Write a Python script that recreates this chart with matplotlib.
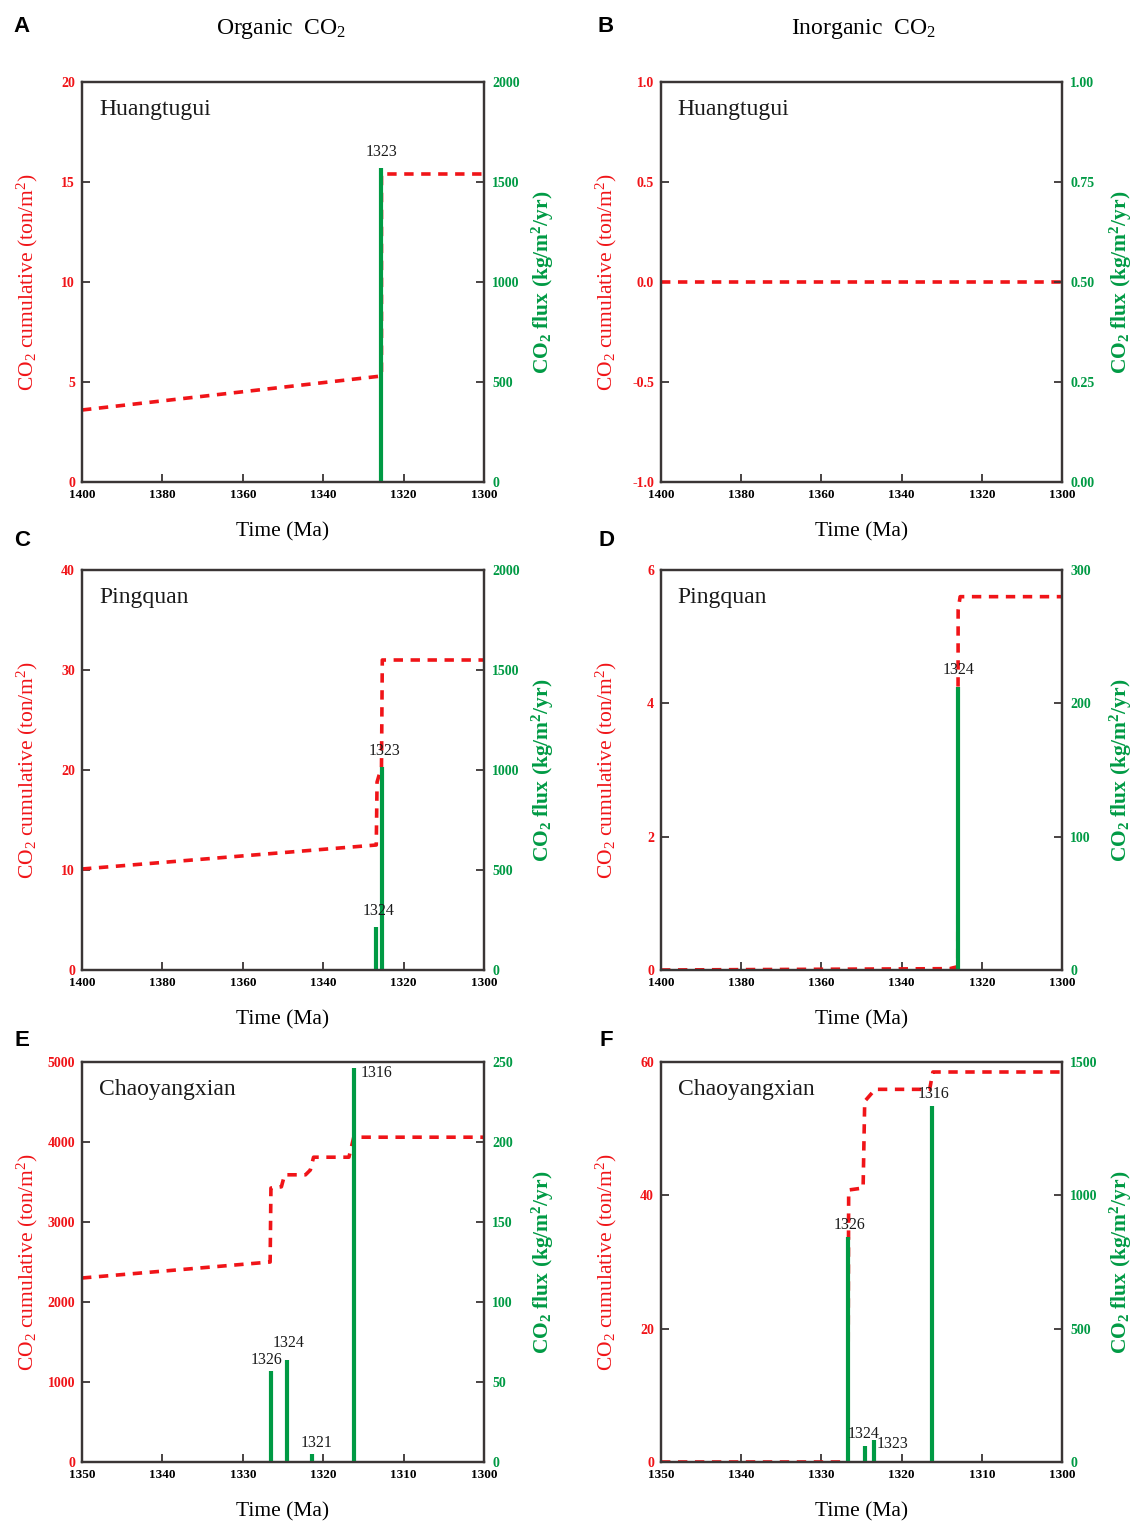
import matplotlib
matplotlib.use('Agg')
import matplotlib.pyplot as plt

plt.rcParams['font.family'] = 'Liberation Serif'
plt.rcParams['mathtext.default'] = 'regular'

RED = '#f01418'
GREEN = '#009a44'
SPINE = '#3a3535'

# panel A - Huangtugui organic
tA = [1400, 1325.5, 1325.5, 1300]
cumA = [3.6, 5.3, 15.4, 15.4]
barA_t = [1325.5]
barA_f = [1570]
barA_lab = ['1323']

# panel B - Huangtugui inorganic
tB = [1400, 1300]
cumB = [0.0, 0.0]
barB_t = []
barB_f = []
barB_lab = []

# panel C - Pingquan organic
tC = [1400, 1326.8, 1326.6, 1325.5, 1325.3, 1300]
cumC = [10.1, 12.5, 18.8, 20.3, 31.0, 31.0]
barC_t = [1326.9, 1325.4]
barC_f = [215, 1015]
barC_lab = ['1324', '1323']

# panel D - Pingquan inorganic
tD = [1400, 1328, 1326, 1325.9, 1325.4, 1300]
cumD = [0.0, 0.02, 0.05, 5.4, 5.6, 5.6]
barD_t = [1325.9]
barD_f = [212]
barD_lab = ['1324']

# panel E - Chaoyangxian organic
tE = [1350, 1326.6, 1326.5, 1325.2, 1324.8, 1322.2, 1321.6, 1321.2, 1316.8, 1316.2, 1300]
cumE = [2300, 2500, 3425, 3440, 3590, 3590, 3650, 3810, 3810, 4060, 4060]
barE_t = [1326.5, 1324.5, 1321.4, 1316.2]
barE_f = [57, 64, 5, 246]
barE_lab = ['1326', '1324', '1321', '1316']

# panel F - Chaoyangxian inorganic
tF = [1350, 1327.6, 1326.7, 1326.6, 1324.8, 1324.6, 1323.3, 1316.5, 1316.1, 1300]
cumF = [0.0, 0.0, 0.3, 40.8, 41.1, 54.1, 55.9, 55.9, 58.5, 58.5]
barF_t = [1326.7, 1324.6, 1323.5, 1316.2]
barF_f = [844, 60, 82, 1335]
barF_lab = ['1326', '1324', '1323', '1316']

panels = [
    dict(letter='A', site='Huangtugui', t=tA, cum=cumA, bt=barA_t, bf=barA_f, lab=barA_lab,
         xlim=(1400, 1300), xt=[1400, 1380, 1360, 1340, 1320, 1300],
         yl=(0, 20), yt=[0, 5, 10, 15, 20], yfmt='{:g}',
         y2=(0, 2000), y2t=[0, 500, 1000, 1500, 2000], y2fmt='{:g}',
         offs=[(0, 6, 'center')]),
    dict(letter='B', site='Huangtugui', t=tB, cum=cumB, bt=barB_t, bf=barB_f, lab=barB_lab,
         xlim=(1400, 1300), xt=[1400, 1380, 1360, 1340, 1320, 1300],
         yl=(-1, 1), yt=[-1, -0.5, 0, 0.5, 1], yfmt='{:.1f}',
         y2=(0, 1), y2t=[0, 0.25, 0.5, 0.75, 1], y2fmt='{:.2f}',
         offs=[]),
    dict(letter='C', site='Pingquan', t=tC, cum=cumC, bt=barC_t, bf=barC_f, lab=barC_lab,
         xlim=(1400, 1300), xt=[1400, 1380, 1360, 1340, 1320, 1300],
         yl=(0, 40), yt=[0, 10, 20, 30, 40], yfmt='{:g}',
         y2=(0, 2000), y2t=[0, 500, 1000, 1500, 2000], y2fmt='{:g}',
         offs=[(2, 6, 'center'), (2, 6, 'center')]),
    dict(letter='D', site='Pingquan', t=tD, cum=cumD, bt=barD_t, bf=barD_f, lab=barD_lab,
         xlim=(1400, 1300), xt=[1400, 1380, 1360, 1340, 1320, 1300],
         yl=(0, 6), yt=[0, 2, 4, 6], yfmt='{:g}',
         y2=(0, 300), y2t=[0, 100, 200, 300], y2fmt='{:g}',
         offs=[(0, 7, 'center')]),
    dict(letter='E', site='Chaoyangxian', t=tE, cum=cumE, bt=barE_t, bf=barE_f, lab=barE_lab,
         xlim=(1350, 1300), xt=[1350, 1340, 1330, 1320, 1310, 1300],
         yl=(0, 5000), yt=[0, 1000, 2000, 3000, 4000, 5000], yfmt='{:g}',
         y2=(0, 250), y2t=[0, 50, 100, 150, 200, 250], y2fmt='{:g}',
         offs=[(-3, 2, 'center'), (1, 6, 'center'), (3, 2, 'center'), (5, -3, 'left')]),
    dict(letter='F', site='Chaoyangxian', t=tF, cum=cumF, bt=barF_t, bf=barF_f, lab=barF_lab,
         xlim=(1350, 1300), xt=[1350, 1340, 1330, 1320, 1310, 1300],
         yl=(0, 60), yt=[0, 20, 40, 60], yfmt='{:g}',
         y2=(0, 1500), y2t=[0, 500, 1000, 1500], y2fmt='{:g}',
         offs=[(1, 3, 'center'), (-1, 3, 'center'), (2, -3, 'left'), (1, 3, 'center')]),
]

fig = plt.figure(figsize=(11.37, 15.21), dpi=100)

lefts = [82 / 1137, 661 / 1137]
widths = [402 / 1137, 401 / 1137]
bottoms = [1 - 482 / 1521, 1 - 970 / 1521, 1 - 1462 / 1521]
h = 400 / 1521

for i, p in enumerate(panels):
    col = i % 2
    row = i // 2
    ax = fig.add_axes([lefts[col], bottoms[row], widths[col], h])
    ax2 = ax.twinx()

    ax.plot(p['t'], p['cum'], color=RED, lw=2.6, ls=(0, (2.6, 2.1)))
    if p['bt']:
        ax2.vlines(p['bt'], 0, p['bf'], color=GREEN, lw=3.0)
    for bt, bf, lab, (dx, dy, ha) in zip(p['bt'], p['bf'], p['lab'], p['offs']):
        ax2.annotate(lab, (bt, bf), xytext=(dx, dy), textcoords='offset points',
                     ha=ha, va='bottom' if dy > 0 else 'center', fontsize=11.5, color='#1a1a1a')

    ax.set_xlim(*p['xlim'])
    ax.set_ylim(*p['yl'])
    ax2.set_ylim(*p['y2'])

    ax.set_xticks(p['xt'])
    ax.set_xticklabels([str(v) for v in p['xt']], fontsize=9.5, fontweight='bold')
    ax.set_yticks(p['yt'])
    ax.set_yticklabels([p['yfmt'].format(v) for v in p['yt']], fontsize=10, fontweight='bold', color=RED)
    ax2.set_yticks(p['y2t'])
    ax2.set_yticklabels([p['y2fmt'].format(v) for v in p['y2t']], fontsize=10, fontweight='bold', color=GREEN)

    ax.tick_params(axis='both', direction='in', length=6, width=1.3, color=SPINE, pad=5)
    ax2.tick_params(axis='y', direction='in', length=6, width=1.3, color=SPINE, pad=6)
    for a in (ax, ax2):
        for s in a.spines.values():
            s.set_color(SPINE)
            s.set_linewidth(1.6)

    ax.set_xlabel('Time (Ma)', fontsize=15.5)
    ax.xaxis.set_label_coords(0.5, -0.1)
    ax.set_ylabel('CO$_2$ cumulative (ton/m$^2$)', fontsize=15.5, color=RED)
    ax.yaxis.set_label_coords(-0.105, 0.5)
    ax2.set_ylabel('CO$_2$ flux (kg/m$^2$/yr)', fontsize=15.5, color=GREEN, fontweight='bold')
    ax2.yaxis.set_label_coords(1.115, 0.5)

    ax.text(0.042, 0.93, p['site'], transform=ax.transAxes, fontsize=17,
            va='center', ha='left', color='#1a1a1a')

    ly = [27, 541, 1041][row]
    lx = [22, 606][col]
    fig.text(lx / 1137, 1 - ly / 1521, p['letter'], fontsize=16, fontweight='bold',
             family='Liberation Sans', ha='center', va='center')

fig.text(281 / 1137, 1 - 29 / 1521, 'Organic  CO$_2$', fontsize=17, ha='center', va='center')
fig.text(863 / 1137, 1 - 29 / 1521, 'Inorganic  CO$_2$', fontsize=17, ha='center', va='center')

fig.savefig('out.png', dpi=100)
